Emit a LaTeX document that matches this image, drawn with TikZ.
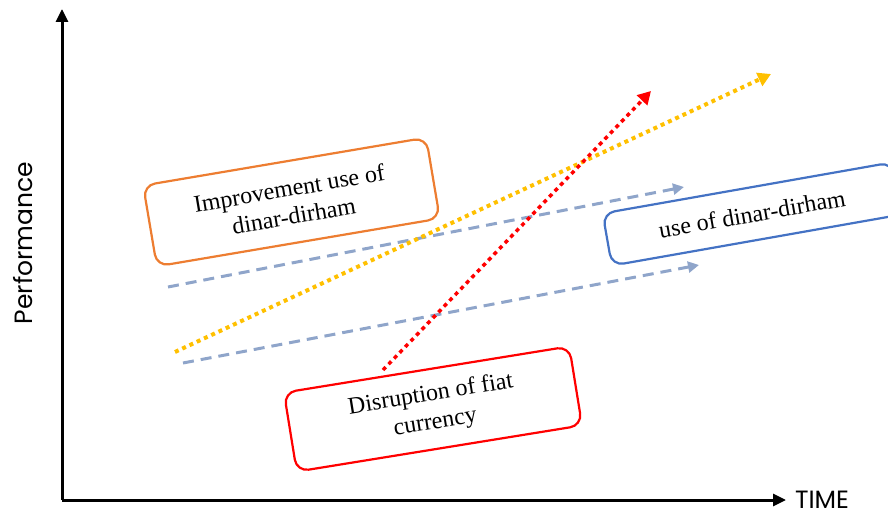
\documentclass[tikz,border=0pt]{standalone}
\usepackage{fontspec}
\setmainfont{Liberation Serif}
\newfontfamily\axisfont{Poppins}
\usetikzlibrary{arrows.meta}
\definecolor{boxorange}{RGB}{237,125,49}
\definecolor{boxblue}{RGB}{68,114,196}
\definecolor{trendgrey}{RGB}{143,165,202}
\definecolor{trendyellow}{RGB}{255,192,0}

\begin{document}
\begin{tikzpicture}[x=1pt, y=-1pt,
    box node/.style={line width=2.2pt, rounded corners=12pt, fill=white, text=black, align=center,
      inner sep=0pt, font=\fontsize{24}{28}\selectfont},
    axis line/.style={line width=3pt, -{Triangle[length=13pt,width=12pt]}},
    axis label/.style={inner sep=0pt, font=\axisfont\fontsize{25}{28}\selectfont},
    trend/.style={line width=3pt, trendgrey, dash pattern=on 11pt off 7pt,
      -{Triangle[length=11pt,width=11pt]}},
    dots/.style={line width=4pt, dash pattern=on 4pt off 4pt,
      -{Triangle[length=13pt,width=14pt]}}]
  \useasboundingbox (0,0) rectangle (888,510);

  % axes
  \coordinate (origin) at (62,500);
  \coordinate (ytop) at (62,9);
  \coordinate (xend) at (786,500);
  \draw[axis line] (origin) -- (ytop);
  \draw[axis line] (origin) -- (xend);
  \node[axis label, rotate=90] (perf) at (23,243) {Performance};
  \node[axis label] (time) at (822,500) {TIME};

  % trend lines
  \coordinate (g1) at (168,287);
  \coordinate (g2) at (684,187);
  \coordinate (g3) at (183,363);
  \coordinate (g4) at (699,265);
  \coordinate (y1) at (175,352);
  \coordinate (y2) at (771,74);
  \coordinate (r1) at (383,370);
  \coordinate (r2) at (651,91);
  \draw[trend] (g1) -- (g2);
  \draw[trend] (g3) -- (g4);
  \draw[dots, trendyellow] (y1) -- (y2);
  \draw[dots, red, line width=3.5pt] (r1) -- (r2);

  % boxes
  \node[box node, draw=boxorange, rotate=9.6, minimum width=287pt, minimum height=82pt]
    (improve) at (291.5,202) {Improvement use of\\dinar-dirham};
  \node[box node, draw=boxblue, rotate=10, minimum width=294pt, minimum height=53pt]
    (use) at (752,214) {use of dinar-dirham};
  \node[box node, draw=red, rotate=9.2, minimum width=289pt, minimum height=80pt]
    (disrupt) at (433,409) {Disruption of fiat\\currency};
\end{tikzpicture}
\end{document}
